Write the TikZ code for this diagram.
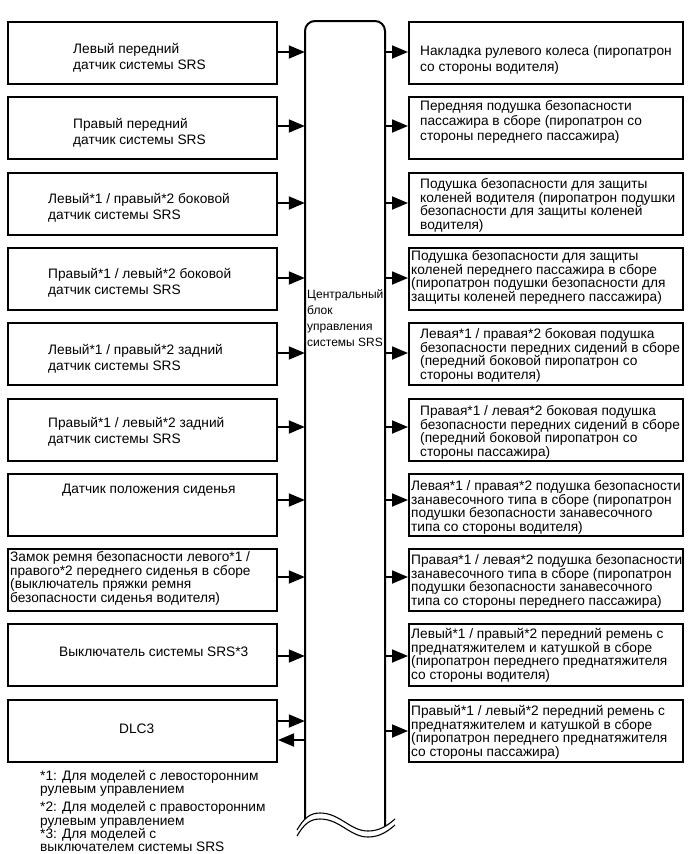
\documentclass[tikz,border=0pt]{standalone}
\usepackage{fontspec}
\setmainfont{Liberation Sans}
\usepackage{tikz}
\usetikzlibrary{arrows.meta}
\tikzset{
  lbox/.style={draw=black, line width=2pt, inner sep=0pt, minimum width=269pt, minimum height=62pt},
  rbox/.style={draw=black, line width=2pt, inner sep=0pt, minimum width=274pt, minimum height=62pt},
  txt/.style={anchor=north west, inner sep=0pt, align=left, font=\fontsize{13.7}{16.5}\selectfont},
  txtsm/.style={txt, font=\fontsize{13.7}{13.8}\selectfont},
  sig/.style={-{Triangle[length=16pt,width=13pt]}, line width=1.8pt},
  eculine/.style={line width=2pt, draw=black},
  cut/.style={line width=1.1pt, draw=black},
}
\begin{document}
\begin{tikzpicture}[x=1pt, y=-1pt]
  \useasboundingbox (0,0) rectangle (690,854);
  % inputs (left column)
  \node[lbox] (l1) at (142.5,53) {};
  \node[lbox] (l2) at (142.5,128.3) {};
  \node[lbox] (l3) at (142.5,203.6) {};
  \node[lbox] (l4) at (142.5,278.9) {};
  \node[lbox] (l5) at (142.5,354.2) {};
  \node[lbox] (l6) at (142.5,429.5) {};
  \node[lbox] (l7) at (142.5,504.8) {};
  \node[lbox] (l8) at (142.5,580.1) {};
  \node[lbox] (l9) at (142.5,655.4) {};
  \node[lbox] (l10) at (142.5,730.7) {};
  \node[txt] (l1t) at (73,43) {Левый передний\\датчик системы SRS};
  \node[txt] (l2t) at (73,118) {Правый передний\\датчик системы SRS};
  \node[txt] (l3t) at (48,193) {Левый*1 / правый*2 боковой\\датчик системы SRS};
  \node[txt] (l4t) at (48,268) {Правый*1 / левый*2 боковой\\датчик системы SRS};
  \node[txt] (l5t) at (48,344) {Левый*1 / правый*2 задний\\датчик системы SRS};
  \node[txt] (l6t) at (48,417) {Правый*1 / левый*2 задний\\датчик системы SRS};
  \node[txt] (l7t) at (62,484) {Датчик положения сиденья};
  \node[txtsm] (l8t) at (10,551) {Замок ремня безопасности левого*1 /\\правого*2 переднего сиденья в сборе\\(выключатель пряжки ремня\\безопасности сиденья водителя)};
  \node[txt] (l9t) at (59,647) {Выключатель системы SRS*3};
  \node[txt] (l10t) at (119,724) {DLC3};

  % airbag control unit
  \node[inner sep=0pt, minimum width=80pt, minimum height=810pt] (ecu) at (345,426) {};
  \draw[eculine, rounded corners=10pt] (305,819) -- (305,21) -- (385,21) -- (385,826);
  \draw[cut] (297,830) .. controls (304,818) and (310,813) .. (320,813) .. controls (340,813) and (350,831) .. (368,831) .. controls (380,831) and (388,825) .. (395,819);
  \draw[cut] (297,836) .. controls (304,824) and (310,819) .. (320,819) .. controls (340,819) and (350,837) .. (368,837) .. controls (380,837) and (388,831) .. (395,825);
  \node[txt, font=\fontsize{12}{16}\selectfont] (ecut) at (307,289) {Центральный\\блок\\управления\\системы SRS};

  % outputs (right column)
  \node[rbox] (r1) at (546,53) {};
  \node[rbox] (r2) at (546,128.3) {};
  \node[rbox] (r3) at (546,203.6) {};
  \node[rbox] (r4) at (546,278.9) {};
  \node[rbox] (r5) at (546,354.2) {};
  \node[rbox] (r6) at (546,429.5) {};
  \node[rbox] (r7) at (546,504.8) {};
  \node[rbox] (r8) at (546,580.1) {};
  \node[rbox] (r9) at (546,655.4) {};
  \node[rbox] (r10) at (546,730.7) {};
  \node[txt] (r1t) at (420,45) {Накладка рулевого колеса (пиропатрон\\со стороны водителя)};
  \node[txt, font=\fontsize{13.7}{15}\selectfont] (r2t) at (420,100) {Передняя подушка безопасности\\пассажира в сборе (пиропатрон со\\стороны переднего пассажира)};
  \node[txtsm] (r3t) at (420,178) {Подушка безопасности для защиты\\коленей водителя (пиропатрон подушки\\безопасности для защиты коленей\\водителя)};
  \node[txtsm] (r4t) at (411,250) {Подушка безопасности для защиты\\коленей переднего пассажира в сборе\\(пиропатрон подушки безопасности для\\защиты коленей переднего пассажира)};
  \node[txtsm] (r5t) at (420,328) {Левая*1 / правая*2 боковая подушка\\безопасности передних сидений в сборе\\(передний боковой пиропатрон со\\стороны водителя)};
  \node[txtsm] (r6t) at (420,405) {Правая*1 / левая*2 боковая подушка\\безопасности передних сидений в сборе\\(передний боковой пиропатрон со\\стороны пассажира)};
  \node[txtsm] (r7t) at (411,480) {Левая*1 / правая*2 подушка безопасности\\занавесочного типа в сборе (пиропатрон\\подушки безопасности занавесочного\\типа со стороны водителя)};
  \node[txtsm] (r8t) at (411,554) {Правая*1 / левая*2 подушка безопасности\\занавесочного типа в сборе (пиропатрон\\подушки безопасности занавесочного\\типа со стороны переднего пассажира)};
  \node[txtsm] (r9t) at (411,628) {Левый*1 / правый*2 передний ремень с\\преднатяжителем и катушкой в сборе\\(пиропатрон переднего преднатяжителя\\со стороны водителя)};
  \node[txtsm] (r10t) at (411,705) {Правый*1 / левый*2 передний ремень с\\преднатяжителем и катушкой в сборе\\(пиропатрон переднего преднатяжителя\\со стороны пассажира)};

  % signal lines
  \foreach \n/\y in {1/52,2/126,3/203,4/278,5/353,6/427,7/500,8/577,9/656}{
    \draw[sig] (l\n.east |- 0,\y) -- (ecu.west |- 0,\y);
    \draw[sig] (ecu.east |- 0,\y) -- (r\n.west |- 0,\y);
  }
  \draw[sig] (l10.east |- 0,721) -- (ecu.west |- 0,721);
  \draw[sig] (ecu.west |- 0,740) -- (l10.east |- 0,740);
  \draw[sig] (ecu.east |- 0,731) -- (r10.west |- 0,731);

  % notes
  \node[txt, font=\fontsize{13.7}{13.3}\selectfont] (notes) at (40,770) {*1: Для моделей с левосторонним\\рулевым управлением\\[5pt]*2: Для моделей с правосторонним\\рулевым управлением\\*3: Для моделей с\\выключателем системы SRS};
\end{tikzpicture}
\end{document}
